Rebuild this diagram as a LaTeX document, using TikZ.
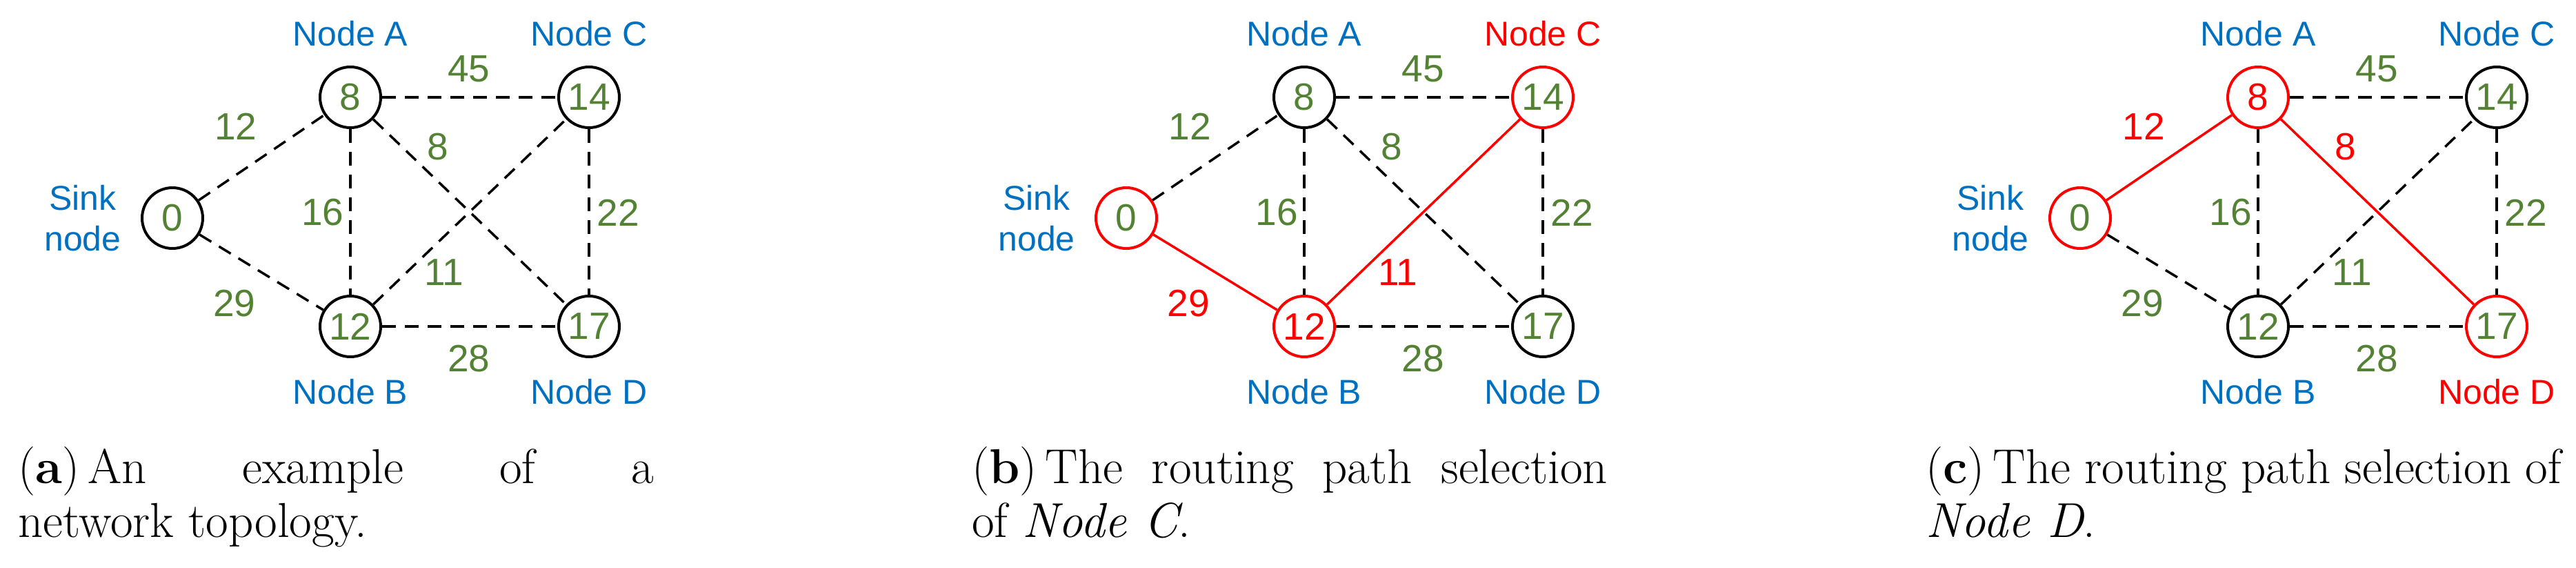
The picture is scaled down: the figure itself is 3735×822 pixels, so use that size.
\documentclass[tikz,border=0pt]{standalone}
\usepackage{fontspec}
\newfontfamily\sansf{Liberation Sans}
\definecolor{gr}{HTML}{548235}
\definecolor{bl}{HTML}{0070C0}
\definecolor{rd}{HTML}{FF0000}
\tikzset{
 nd/.style={circle,minimum size=88pt,inner sep=0pt,line width=4pt,font=\sansf\fontsize{55}{55}\selectfont},
 lb/.style={font=\sansf\fontsize{50}{50}\selectfont,inner sep=0pt},
 num/.style={font=\sansf\fontsize{55}{55}\selectfont,inner sep=0pt},
 dsh/.style={line width=3.5pt,dash pattern=on 20pt off 13pt,black},
 sol/.style={line width=3.5pt,rd},
 captxt/.style={anchor=base west,inner sep=0pt,font=\fontsize{71}{85}\selectfont},
}
\newcommand\Panel[2]{%
\begin{scope}[xshift=#2]
\node[nd,draw=c0,text=t0] (#1n0) at (250,316) {0};
\node[nd,draw=cA,text=tA] (#1nA) at (508,141) {8};
\node[nd,draw=cC,text=tC] (#1nC) at (854,141) {14};
\node[nd,draw=cB,text=tB] (#1nB) at (508,473) {12};
\node[nd,draw=cD,text=tD] (#1nD) at (854,473) {17};
\node[lb,text=bl] (#1s1) at (120,287) {Sink};
\node[lb,text=bl] (#1s2) at (120,346) {node};
\node[lb,text=lA] (#1lA) at (508,49) {Node A};
\node[lb,text=lB] (#1lB) at (508,568) {Node B};
\node[lb,text=lC] (#1lC) at (854,49) {Node C};
\node[lb,text=lD] (#1lD) at (854,568) {Node D};
\draw[e0A] (#1n0) -- (#1nA);
\draw[e0B] (#1n0) -- (#1nB);
\draw[eAC] (#1nA) -- (#1nC);
\draw[eAB] (#1nA) -- (#1nB);
\draw[eAD] (#1nA) -- (#1nD);
\draw[eBC] (#1nB) -- (#1nC);
\draw[eCD] (#1nC) -- (#1nD);
\draw[eBD] (#1nB) -- (#1nD);
\node[num,text=w0A] (#1w0A) at (342,183) {12};
\node[num,text=w0B] (#1w0B) at (340,440) {29};
\node[num,text=gr] (#1wAC) at (680,100) {45};
\node[num,text=wAD] (#1wAD) at (635,213) {8};
\node[num,text=gr] (#1wAB) at (468,308) {16};
\node[num,text=wBC] (#1wBC) at (644,395) {11};
\node[num,text=gr] (#1wCD) at (896,308) {22};
\node[num,text=gr] (#1wBD) at (680,520) {28};
\end{scope}}
\begin{document}
\begin{tikzpicture}[x=1pt,y=-1pt]
\useasboundingbox (0,0) rectangle (3735,822);
% panel a
\colorlet{c0}{black}\colorlet{cA}{black}\colorlet{cB}{black}\colorlet{cC}{black}\colorlet{cD}{black}
\colorlet{t0}{gr}\colorlet{tA}{gr}\colorlet{tB}{gr}\colorlet{tC}{gr}\colorlet{tD}{gr}
\colorlet{lA}{bl}\colorlet{lB}{bl}\colorlet{lC}{bl}\colorlet{lD}{bl}
\colorlet{w0A}{gr}\colorlet{w0B}{gr}\colorlet{wAD}{gr}\colorlet{wBC}{gr}
\tikzset{e0A/.style=dsh,e0B/.style=dsh,eAC/.style=dsh,eAB/.style=dsh,eAD/.style=dsh,eBC/.style=dsh,eCD/.style=dsh,eBD/.style=dsh}
\Panel{a}{0}
% panel b
\colorlet{c0}{rd}\colorlet{cB}{rd}\colorlet{cC}{rd}
\colorlet{tB}{rd}\colorlet{lC}{rd}
\colorlet{w0B}{rd}\colorlet{wBC}{rd}
\tikzset{e0B/.style=sol,eBC/.style=sol}
\Panel{b}{1383}
% panel c
\colorlet{c0}{rd}\colorlet{cA}{rd}\colorlet{cB}{black}\colorlet{cC}{black}\colorlet{cD}{rd}
\colorlet{tB}{gr}\colorlet{tA}{rd}\colorlet{lC}{bl}\colorlet{lD}{rd}
\colorlet{w0B}{gr}\colorlet{wBC}{gr}\colorlet{w0A}{rd}\colorlet{wAD}{rd}
\tikzset{e0B/.style=dsh,eBC/.style=dsh,e0A/.style=sol,eAD/.style=sol}
\Panel{c}{2766}
% captions
\node[captxt] (capa1) at (26,700) {\makebox[922pt][s]{(\textbf{a})\,An example of a}};
\node[captxt] (capa2) at (26,778) {network topology.};
\node[captxt] (capb1) at (1409,700) {\makebox[922pt][s]{(\textbf{b})\,The routing path selection}};
\node[captxt] (capb2) at (1409,778) {of \textit{Node C}.};
\node[captxt] (capc1) at (2792,700) {\makebox[922pt][s]{(\textbf{c})\,The routing path selection of}};
\node[captxt] (capc2) at (2792,778) {\textit{Node D}.};
\end{tikzpicture}
\end{document}
